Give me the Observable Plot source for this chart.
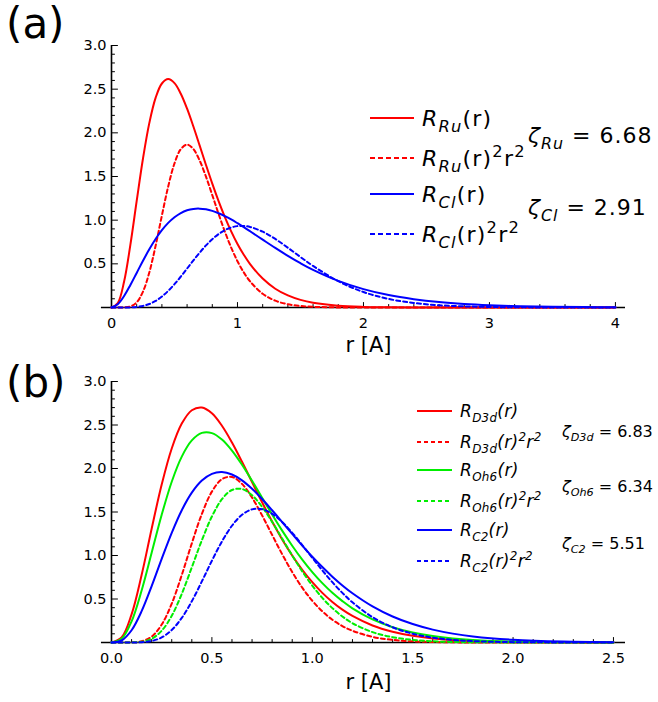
<!DOCTYPE html>
<html><head><meta charset="utf-8">
<script src="https://cdn.jsdelivr.net/npm/d3@7"></script>
<script src="https://cdn.jsdelivr.net/npm/@observablehq/plot@0.6"></script>
<style>
html,body{margin:0;padding:0;background:#fff;}
#chart{width:658px;height:702px;overflow:hidden;}
#chart svg{display:block;overflow:visible;}
</style></head><body><div id="chart"></div>
<script>
// ---------- Panel (a) data ----------
const rA = [0,0.05,0.1,0.15,0.2,0.25,0.3,0.35,0.4,0.45,0.5,0.55,0.6,0.65,0.7,0.75,0.8,0.85,0.9,0.95,1.0,
  1.05,1.1,1.2,1.3,1.4,1.5,1.6,1.8,2.0,2.2,2.4,2.6,2.8,3.0,3.25,3.5,3.75,4.0];
const ruR = [0,0.052,0.297,0.719,1.220,1.706,2.111,2.400,2.565,2.615,2.569,2.448,2.276,2.072,1.853,1.632,1.418,1.218,1.035,0.872,0.728,
  0.604,0.497,0.331,0.215,0.138,0.087,0.054,0.020,0.007,0.003,0.001,0,0,0,0,0,0,0];
const ruD = [0,0.00001,0.001,0.012,0.060,0.182,0.401,0.706,1.053,1.385,1.650,1.813,1.865,1.814,1.682,1.498,1.287,1.072,0.868,0.686,0.530,
  0.402,0.299,0.157,0.078,0.037,0.017,0.008,0.001,0,0,0,0,0,0,0,0,0,0];
const clR = [0,0.038,0.132,0.258,0.396,0.535,0.666,0.784,0.885,0.969,1.034,1.082,1.113,1.129,1.132,1.124,1.106,1.079,1.046,1.008,0.965,
  0.920,0.873,0.777,0.682,0.591,0.507,0.431,0.305,0.210,0.142,0.095,0.062,0.040,0.026,0.015,0.008,0.005,0.003];
const clD = [0,0,0.0002,0.0015,0.006,0.018,0.040,0.075,0.125,0.190,0.267,0.354,0.446,0.539,0.628,0.711,0.782,0.841,0.886,0.916,0.932,
  0.933,0.922,0.868,0.785,0.684,0.578,0.476,0.301,0.177,0.098,0.052,0.026,0.013,0.006,0.002,0.001,0,0];

// ---------- Panel (b) data ----------
const rB = [0,0.05,0.1,0.15,0.2,0.25,0.3,0.35,0.4,0.45,0.5,0.55,0.6,0.65,0.7,0.75,0.8,0.85,0.9,0.95,1.0,1.05,1.1,1.15,1.2,
  1.3,1.4,1.5,1.6,1.7,1.8,2.0,2.25,2.5];
const d3dR = [0,0.057,0.324,0.776,1.308,1.816,2.230,2.516,2.670,2.701,2.634,2.491,2.299,2.077,1.844,1.612,1.390,1.185,1.000,0.836,0.693,0.570,0.466,0.378,0.306,
  0.196,0.124,0.077,0.047,0.029,0.017,0.006,0.002,0];
const d3dD = [0,0,0.001,0.014,0.068,0.206,0.447,0.776,1.140,1.478,1.734,1.877,1.902,1.823,1.666,1.461,1.237,1.015,0.810,0.630,0.480,0.358,0.262,0.189,0.135,
  0.065,0.030,0.013,0.006,0.002,0.001,0,0,0];
const oh6R = [0,0.042,0.243,0.598,1.032,1.468,1.848,2.137,2.323,2.409,2.407,2.333,2.206,2.043,1.859,1.665,1.472,1.286,1.112,0.952,0.809,0.682,0.571,0.476,0.393,
  0.265,0.176,0.115,0.074,0.047,0.030,0.011,0.003,0.001];
const oh6D = [0,0,0.001,0.008,0.043,0.135,0.307,0.559,0.864,1.175,1.448,1.647,1.753,1.764,1.693,1.559,1.386,1.194,1.001,0.818,0.654,0.513,0.395,0.299,0.222,
  0.119,0.061,0.030,0.014,0.006,0.003,0.001,0,0];
const c2R = [0,0.023,0.141,0.360,0.648,0.961,1.260,1.520,1.722,1.861,1.939,1.959,1.931,1.864,1.767,1.650,1.520,1.384,1.248,1.114,0.986,0.867,0.757,0.656,0.566,
  0.415,0.299,0.212,0.148,0.102,0.070,0.032,0.011,0.004];
const c2D = [0,0,0.0002,0.003,0.017,0.058,0.143,0.283,0.474,0.702,0.940,1.161,1.342,1.468,1.530,1.532,1.479,1.385,1.261,1.120,0.973,0.829,0.693,0.570,0.462,
  0.291,0.175,0.101,0.056,0.030,0.016,0.004,0.001,0];

// ---------- ticks ----------
const yMajor = [0.5,1.0,1.5,2.0,2.5,3.0];
const yMinor = [0.1,0.2,0.3,0.4,0.6,0.7,0.8,0.9,1.1,1.2,1.3,1.4,1.6,1.7,1.8,1.9,2.1,2.2,2.3,2.4,2.6,2.7,2.8,2.9];
const xLabelsA = [0,1,2,3,4];
const xMajorA = [1,2,3,4];
const xMinorA = [0.2,0.4,0.6,0.8,1.2,1.4,1.6,1.8,2.2,2.4,2.6,2.8,3.2,3.4,3.6,3.8];
const xLabelsB = [0,0.5,1.0,1.5,2.0,2.5];
const xMajorB = [0.5,1.0,1.5,2.0,2.5];
const xMinorB = [0.1,0.2,0.3,0.4,0.6,0.7,0.8,0.9,1.1,1.2,1.3,1.4,1.6,1.7,1.8,1.9,2.1,2.2,2.3,2.4];

const RED = "#ff0000", GREEN = "#00ee00", BLUE = "#0000ff";
const DASH = "4,3";
const FONT = "DejaVu Sans";

const seriesA = [
  {name:"RuR", vals:ruR, color:RED, dash:null},
  {name:"RuD", vals:ruD, color:RED, dash:DASH},
  {name:"ClR", vals:clR, color:BLUE, dash:null},
  {name:"ClD", vals:clD, color:BLUE, dash:DASH}
];
const seriesB = [
  {name:"D3dR", vals:d3dR, color:RED, dash:null},
  {name:"D3dD", vals:d3dD, color:RED, dash:DASH},
  {name:"Oh6R", vals:oh6R, color:GREEN, dash:null},
  {name:"Oh6D", vals:oh6D, color:GREEN, dash:DASH},
  {name:"C2R", vals:c2R, color:BLUE, dash:null},
  {name:"C2D", vals:c2D, color:BLUE, dash:DASH}
];

const tickShape = {draw(ctx, l) { ctx.moveTo(0, 0); ctx.lineTo(0, -l); }};

function panel({r, series, xMax, xLeft, xLabels, xFmt, xMajor, xMinor, marginTop, marginBottom, labelDy}) {
  const rows = series.flatMap(s => r.map((x, i) => ({r: x, v: s.vals[i], s: s.name})));
  const lines = series.map(s => Plot.line(rows.filter(d => d.s === s.name), {
    x: "r", y: "v", stroke: s.color, strokeWidth: 2, strokeDasharray: s.dash ?? undefined, curve: "catmull-rom"
  }));
  return Plot.plot({
    width: 658, height: 351,
    marginLeft: 111, marginRight: 33, marginTop, marginBottom,
    x: {domain: [0, xMax]},
    y: {domain: [0, 3]},
    style: {fontFamily: FONT, fontSize: "14px", color: "black", background: "none", overflow: "visible"},
    marks: [
      Plot.ruleY([0], {x1: xLeft, x2: xMax, stroke: "black", strokeWidth: 1.6}),
      Plot.ruleX([0], {y1: 0, y2: 3, stroke: "black", strokeWidth: 1.6}),
      Plot.vector(yMajor, {x: 0, y: d => d, length: 6, rotate: 90, anchor: "start", shape: tickShape, stroke: "black", strokeWidth: 1}),
      Plot.vector(yMinor, {x: 0, y: d => d, length: 3, rotate: 90, anchor: "start", shape: tickShape, stroke: "black", strokeWidth: 1}),
      Plot.vector(xMajor, {x: d => d, y: 0, length: 5, rotate: 0, anchor: "start", shape: tickShape, stroke: "black", strokeWidth: 1}),
      Plot.vector(xMinor, {x: d => d, y: 0, length: 3, rotate: 0, anchor: "start", shape: tickShape, stroke: "black", strokeWidth: 1}),
      Plot.axisY({ticks: yMajor, tickSize: 0, tickPadding: 5, tickFormat: d3.format(".1f"), label: null, fontSize: 14.5}),
      Plot.axisX({ticks: xLabels, tickSize: 0, tickPadding: 10, tickFormat: xFmt, label: null, fontSize: 14.5}),
      Plot.text(["r [A]"], {text: d => d, frameAnchor: "bottom", dy: labelDy, fontSize: 21, lineAnchor: "middle"}),
      ...lines
    ]
  });
}

function rich(g, x, y, parts, size, spacing = 0, subScale = 0.7) {
  const t = g.append("text").attr("x", x).attr("y", y).attr("font-size", size)
    .attr("font-family", FONT).attr("fill", "black").attr("text-anchor", "start")
    .attr("letter-spacing", spacing);
  let cur = 0;
  for (const [str, st] of parts) {
    const tok = st.split(" ");
    const sub = tok.includes("sub"), sup = tok.includes("sup"), it = tok.includes("i");
    const off = sub ? size * 0.28 : sup ? -size * 0.42 : 0;
    t.append("tspan").attr("dy", off - cur)
      .attr("font-style", it ? "italic" : "normal")
      .attr("font-size", (sub || sup) ? size * subScale : size)
      .text(str);
    cur = off;
  }
}

function legend(svg, items, x1, x2, tx, size, legDash, spacing, subScale) {
  const g = d3.select(svg).append("g").attr("text-anchor", "start");
  for (const it of items) {
    g.append("line").attr("x1", x1).attr("x2", x2).attr("y1", it.ly).attr("y2", it.ly)
      .attr("stroke", it.color).attr("stroke-width", 2)
      .attr("stroke-dasharray", it.dash ? legDash : null);
    rich(g, tx, it.ty, it.parts, size, spacing, subScale);
  }
  return g;
}

const chart = document.getElementById("chart");

// ----- Panel (a) -----
const svgA = panel({r: rA, series: seriesA, xMax: 4.08, xLeft: -0.08, xLabels: xLabelsA, xFmt: d3.format("d"),
  xMajor: xMajorA, xMinor: xMinorA, marginTop: 45, marginBottom: 44, labelDy: 38});
chart.appendChild(svgA);
const itemsA = [
  {color: RED, dash: false, ly: 118, ty: 126, parts: [["R","i"],["Ru","i sub"],["(r)",""]]},
  {color: RED, dash: true, ly: 158, ty: 166, parts: [["R","i"],["Ru","i sub"],["(r)",""],["2","sup"],["r",""],["2","sup"]]},
  {color: BLUE, dash: false, ly: 194, ty: 202, parts: [["R","i"],["Cl","i sub"],["(r)",""]]},
  {color: BLUE, dash: true, ly: 234, ty: 242, parts: [["R","i"],["Cl","i sub"],["(r)",""],["2","sup"],["r",""],["2","sup"]]}
];
const gA = legend(svgA, itemsA, 370, 414, 422, 22, "5,3", 1.2, 0.74);
rich(gA, 528, 143, [["ζ","i"],["Ru","i sub"],[" = 6.68",""]], 22, 1, 0.72);
rich(gA, 528, 215, [["ζ","i"],["Cl","i sub"],[" = 2.91",""]], 22, 1, 0.72);
d3.select(svgA).append("text").attr("x", 6).attr("y", 38).attr("font-size", 42)
  .attr("text-anchor", "start").attr("font-family", FONT).text("(a)");

// ----- Panel (b) -----
const svgB = panel({r: rB, series: seriesB, xMax: 2.56, xLeft: -0.05, xLabels: xLabelsB, xFmt: d3.format(".1f"),
  xMajor: xMajorB, xMinor: xMinorB, marginTop: 30, marginBottom: 60, labelDy: 40});
chart.appendChild(svgB);
const itemsB = [
  {color: RED, dash: false, ly: 60, ty: 66, parts: [["R","i"],["D3d","i sub"],["(r)","i"]]},
  {color: RED, dash: true, ly: 91, ty: 97, parts: [["R","i"],["D3d","i sub"],["(r)","i"],["2","i sup"],["r","i"],["2","i sup"]]},
  {color: GREEN, dash: false, ly: 119, ty: 125, parts: [["R","i"],["Oh6","i sub"],["(r)","i"]]},
  {color: GREEN, dash: true, ly: 150, ty: 156, parts: [["R","i"],["Oh6","i sub"],["(r)","i"],["2","i sup"],["r","i"],["2","i sup"]]},
  {color: BLUE, dash: false, ly: 179, ty: 185, parts: [["R","i"],["C2","i sub"],["(r)","i"]]},
  {color: BLUE, dash: true, ly: 210, ty: 216, parts: [["R","i"],["C2","i sub"],["(r)","i"],["2","i sup"],["r","i"],["2","i sup"]]}
];
const gB = legend(svgB, itemsB, 417, 452, 460, 17, "4,3", 0.3, 0.7);
rich(gB, 562, 86, [["ζ","i"],["D3d","i sub"],[" = 6.83",""]], 16);
rich(gB, 562, 141, [["ζ","i"],["Oh6","i sub"],[" = 6.34",""]], 16);
rich(gB, 562, 198, [["ζ","i"],["C2","i sub"],[" = 5.51",""]], 16);
d3.select(svgB).append("text").attr("x", 6).attr("y", 46).attr("font-size", 42)
  .attr("text-anchor", "start").attr("font-family", FONT).text("(b)");
</script>
</body></html>
